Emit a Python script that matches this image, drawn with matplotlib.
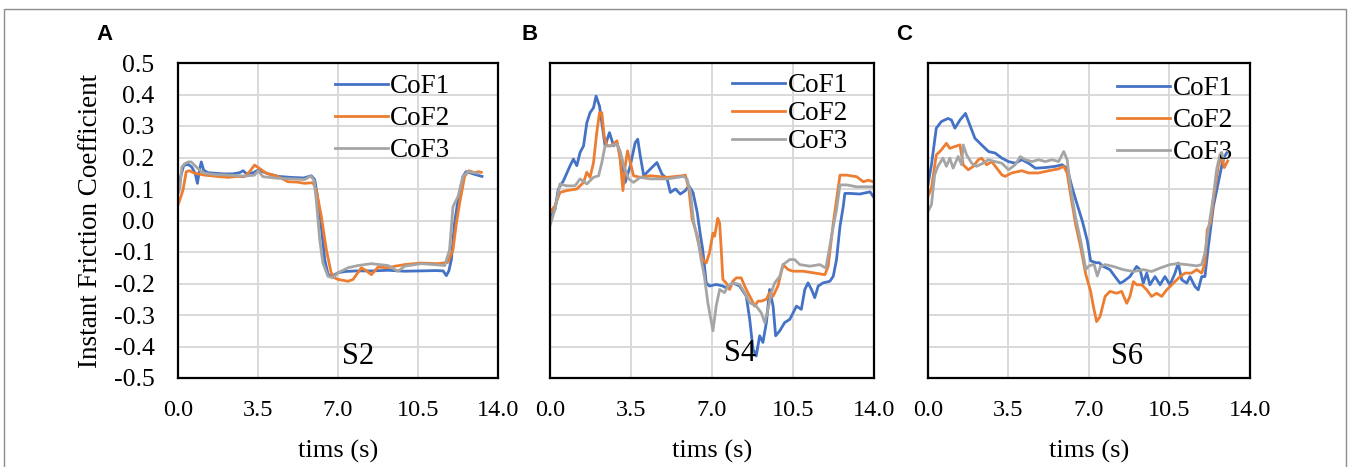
import matplotlib
matplotlib.use("Agg")
import matplotlib.pyplot as plt
from matplotlib.patches import Rectangle

plt.rcParams["axes.unicode_minus"] = False

SERIES_NAMES = ["CoF1", "CoF2", "CoF3"]
PANEL_LETTERS = ["A", "B", "C"]
SAMPLE_NAMES = ["S2", "S4", "S6"]
X_TICKS = [0.0, 3.5, 7.0, 10.5, 14.0]
X_TICK_LABELS = ["0.0", "3.5", "7.0", "10.5", "14.0"]
Y_TICKS = [-0.5, -0.4, -0.3, -0.2, -0.1, 0.0, 0.1, 0.2, 0.3, 0.4, 0.5]
Y_TICK_LABELS = ["-0.5", "-0.4", "-0.3", "-0.2", "-0.1", "0.0",
                 "0.1", "0.2", "0.3", "0.4", "0.5"]

# ---- S2 ----
S2_T1 = [0.0, 0.12, 0.25, 0.45, 0.6, 0.75, 0.85, 0.95, 1.02, 1.12, 1.3, 1.6, 2.0, 2.4,
         2.7, 2.85, 3.0, 3.3, 3.5, 3.7, 4.0, 4.4, 4.9, 5.5, 5.83, 5.98, 6.1, 6.27, 6.42,
         6.56, 6.7, 6.85, 7.0, 7.3, 7.8, 8.5, 9.2, 9.9, 10.6, 11.3, 11.6, 11.74, 11.85,
         11.96, 12.1, 12.25, 12.47, 12.6, 12.83, 13.05, 13.3]
S2_COF1 = [0.09, 0.14, 0.175, 0.178, 0.17, 0.15, 0.118, 0.165, 0.186, 0.16, 0.152, 0.15,
           0.148, 0.148, 0.152, 0.158, 0.148, 0.152, 0.16, 0.155, 0.147, 0.14, 0.137,
           0.135, 0.142, 0.13, 0.076, -0.02, -0.124, -0.17, -0.178, -0.172, -0.166,
           -0.162, -0.16, -0.16, -0.158, -0.161, -0.16, -0.159, -0.16, -0.175, -0.16,
           -0.124, -0.008, 0.065, 0.14, 0.155, 0.15, 0.145, 0.14]
S2_T2 = [0.0, 0.1, 0.22, 0.36, 0.5, 0.73, 1.17, 1.7, 2.2, 2.6, 2.9, 3.13, 3.35, 3.57,
         3.86, 4.37, 4.81, 5.2, 5.54, 5.9, 6.05, 6.27, 6.49, 6.7, 6.85, 7.0, 7.44, 7.66,
         8.02, 8.25, 8.46, 8.75, 9.19, 9.5, 9.92, 10.6, 11.37, 11.8, 12.03, 12.18,
         12.32, 12.54, 12.72, 12.98, 13.15, 13.27]
S2_COF2 = [0.05, 0.07, 0.097, 0.155, 0.158, 0.15, 0.144, 0.14, 0.137, 0.14, 0.139,
           0.155, 0.176, 0.165, 0.15, 0.14, 0.123, 0.122, 0.118, 0.12, 0.097, 0.013,
           -0.093, -0.166, -0.182, -0.187, -0.193, -0.187, -0.15, -0.16, -0.172,
           -0.148, -0.15, -0.145, -0.14, -0.135, -0.137, -0.133, -0.093, -0.008, 0.055,
           0.14, 0.158, 0.152, 0.155, 0.153]
S2_T3 = [0.0, 0.08, 0.17, 0.29, 0.45, 0.58, 0.8, 0.95, 1.17, 1.6, 2.2, 2.92, 3.35, 3.5,
         3.72, 4.37, 5.0, 5.54, 5.8, 5.95, 6.05, 6.2, 6.34, 6.56, 6.78, 7.0, 7.44, 7.87,
         8.46, 9.19, 9.62, 9.92, 10.64, 11.2, 11.67, 11.88, 12.03, 12.25, 12.47, 12.69,
         13.12]
S2_COF3 = [0.086, 0.1, 0.17, 0.18, 0.186, 0.186, 0.17, 0.16, 0.15, 0.146, 0.144, 0.141,
           0.144, 0.158, 0.139, 0.134, 0.132, 0.13, 0.141, 0.128, 0.065, -0.061, -0.135,
           -0.177, -0.182, -0.166, -0.15, -0.143, -0.137, -0.143, -0.161, -0.145,
           -0.137, -0.14, -0.143, -0.093, 0.044, 0.076, 0.14, 0.155, 0.15]

# ---- S4 ----
S4_T1 = [0.0, 0.22, 0.36, 0.58, 0.87, 1.01, 1.16, 1.3, 1.45, 1.59, 1.73, 1.88, 1.99,
         2.14, 2.24, 2.38, 2.57, 2.75, 2.89, 3.1, 3.25, 3.47, 3.68, 3.79, 3.9, 4.05,
         4.33, 4.62, 4.84, 5.06, 5.2, 5.42, 5.63, 5.85, 6.0, 6.18, 6.36, 6.5, 6.6, 6.75,
         6.89, 7.18, 7.47, 7.61, 7.9, 8.19, 8.48, 8.63, 8.77, 8.91, 9.06, 9.2, 9.35,
         9.49, 9.64, 9.75, 9.93, 10.14, 10.36, 10.65, 10.86, 11.01, 11.15, 11.3, 11.44,
         11.59, 11.8, 12.09, 12.24, 12.38, 12.53, 12.67, 12.74, 12.96, 13.39, 13.83,
         13.97]
S4_COF1 = [0.005, 0.037, 0.1, 0.126, 0.174, 0.195, 0.174, 0.216, 0.237, 0.31, 0.342,
           0.358, 0.395, 0.363, 0.31, 0.237, 0.279, 0.237, 0.247, 0.195, 0.121, 0.174,
           0.247, 0.258, 0.205, 0.142, 0.163, 0.184, 0.147, 0.132, 0.089, 0.1, 0.084,
           0.095, 0.11, 0.089, 0.026, -0.047, -0.093, -0.198, -0.208, -0.203, -0.208,
           -0.214, -0.198, -0.208, -0.24, -0.314, -0.408, -0.43, -0.366, -0.387,
           -0.324, -0.219, -0.272, -0.366, -0.35, -0.324, -0.314, -0.272, -0.282,
           -0.219, -0.198, -0.219, -0.245, -0.208, -0.198, -0.193, -0.177, -0.124,
           -0.019, 0.044, 0.086, 0.086, 0.084, 0.091, 0.076]
S4_T2 = [0.0, 0.22, 0.43, 0.72, 1.16, 1.45, 1.59, 1.73, 1.88, 2.02, 2.14, 2.24, 2.34,
         2.46, 2.67, 2.89, 3.03, 3.15, 3.25, 3.35, 3.47, 3.61, 3.9, 4.33, 5.06, 5.71,
         5.85, 6.0, 6.14, 6.36, 6.5, 6.6, 6.75, 6.89, 7.04, 7.11, 7.25, 7.33, 7.4, 7.47,
         7.61, 7.76, 7.9, 8.05, 8.26, 8.41, 8.55, 8.7, 8.84, 8.99, 9.13, 9.35, 9.49,
         9.64, 9.85, 10.07, 10.29, 10.5, 10.94, 11.37, 11.88, 12.02, 12.24, 12.38,
         12.53, 12.82, 13.25, 13.54, 13.75, 13.97]
S4_COF2 = [0.026, 0.047, 0.089, 0.095, 0.1, 0.121, 0.153, 0.137, 0.184, 0.279, 0.342,
           0.342, 0.268, 0.237, 0.237, 0.253, 0.195, 0.095, 0.174, 0.221, 0.184, 0.142,
           0.137, 0.142, 0.137, 0.142, 0.144, 0.1, 0.005, -0.047, -0.1, -0.124, -0.135,
           -0.103, -0.04, -0.05, 0.007, -0.008, -0.093, -0.187, -0.198, -0.219, -0.193,
           -0.182, -0.182, -0.208, -0.229, -0.25, -0.272, -0.256, -0.256, -0.25,
           -0.229, -0.24, -0.208, -0.14, -0.156, -0.161, -0.161, -0.166, -0.172,
           -0.145, -0.008, 0.065, 0.144, 0.144, 0.139, 0.123, 0.128, 0.123]
S4_T3 = [0.0, 0.22, 0.43, 0.72, 1.08, 1.3, 1.59, 1.88, 2.1, 2.24, 2.38, 2.6, 2.89, 3.03,
         3.18, 3.4, 3.61, 3.9, 4.33, 5.06, 5.78, 5.92, 6.07, 6.21, 6.43, 6.53, 6.67,
         6.82, 7.04, 7.18, 7.33, 7.54, 7.69, 7.9, 8.19, 8.41, 8.63, 8.91, 9.13, 9.28,
         9.42, 9.56, 9.71, 9.93, 10.07, 10.36, 10.57, 10.79, 11.23, 11.66, 11.92,
         12.09, 12.24, 12.38, 12.53, 12.82, 13.25, 13.68, 13.97]
S4_COF3 = [-0.016, 0.037, 0.116, 0.11, 0.11, 0.132, 0.116, 0.137, 0.142, 0.184, 0.237,
           0.237, 0.242, 0.221, 0.174, 0.132, 0.121, 0.137, 0.132, 0.132, 0.14, 0.132,
           0.089, -0.005, -0.079, -0.124, -0.177, -0.261, -0.35, -0.272, -0.219,
           -0.229, -0.208, -0.198, -0.203, -0.229, -0.261, -0.272, -0.293, -0.324,
           -0.282, -0.229, -0.198, -0.177, -0.14, -0.124, -0.124, -0.14, -0.145, -0.14,
           -0.151, -0.082, -0.019, 0.034, 0.113, 0.113, 0.107, 0.107, 0.107]

# ---- S6 ----
S6_T1 = [0.0, 0.15, 0.36, 0.58, 0.87, 1.02, 1.17, 1.39, 1.63, 1.82, 2.04, 2.33, 2.63,
         2.92, 3.21, 3.5, 3.79, 4.08, 4.37, 4.67, 5.1, 5.54, 5.83, 6.05, 6.27, 6.49,
         6.71, 6.93, 7.07, 7.29, 7.44, 7.62, 7.91, 8.13, 8.35, 8.49, 8.78, 9.07, 9.22,
         9.36, 9.51, 9.65, 9.87, 10.09, 10.3, 10.52, 10.74, 10.88, 11.03, 11.25, 11.39,
         11.61, 11.75, 11.9, 12.04, 12.19, 12.41, 12.62, 12.77, 12.87, 12.99]
S6_COF1 = [0.114, 0.177, 0.293, 0.314, 0.324, 0.319, 0.293, 0.319, 0.34, 0.303, 0.261,
           0.24, 0.219, 0.214, 0.198, 0.187, 0.182, 0.193, 0.182, 0.166, 0.168, 0.172,
           0.177, 0.166, 0.103, 0.05, -0.002, -0.065, -0.128, -0.134, -0.134, -0.146,
           -0.156, -0.178, -0.199, -0.194, -0.178, -0.146, -0.156, -0.199, -0.167,
           -0.204, -0.178, -0.204, -0.178, -0.204, -0.167, -0.135, -0.188, -0.199,
           -0.178, -0.21, -0.22, -0.178, -0.178, -0.082, 0.046, 0.12, 0.173, 0.2, 0.215]
S6_T2 = [0.0, 0.15, 0.36, 0.58, 0.8, 0.95, 1.17, 1.39, 1.53, 1.75, 1.97, 2.19, 2.33,
         2.55, 2.77, 2.99, 3.21, 3.35, 3.64, 4.08, 4.37, 4.81, 5.25, 5.68, 5.9, 6.05,
         6.2, 6.42, 6.64, 6.86, 7.07, 7.19, 7.33, 7.48, 7.7, 7.91, 8.2, 8.42, 8.64, 8.78,
         8.93, 9.07, 9.29, 9.51, 9.72, 9.94, 10.16, 10.38, 10.67, 10.96, 11.17, 11.46,
         11.68, 11.9, 12.04, 12.14, 12.29, 12.43, 12.62, 12.77, 12.88, 13.03]
S6_COF2 = [0.077, 0.103, 0.208, 0.224, 0.245, 0.229, 0.235, 0.24, 0.177, 0.161, 0.172,
           0.193, 0.198, 0.177, 0.187, 0.166, 0.145, 0.14, 0.151, 0.158, 0.151, 0.151,
           0.158, 0.164, 0.172, 0.151, 0.082, -0.013, -0.086, -0.171, -0.225, -0.273,
           -0.321, -0.305, -0.241, -0.225, -0.231, -0.225, -0.263, -0.241, -0.194,
           -0.204, -0.204, -0.22, -0.241, -0.231, -0.241, -0.22, -0.199, -0.178,
           -0.167, -0.167, -0.156, -0.167, -0.135, -0.029, -0.007, 0.078, 0.173, 0.205,
           0.168, 0.189]
S6_T3 = [0.0, 0.15, 0.29, 0.43, 0.65, 0.8, 0.95, 1.09, 1.31, 1.46, 1.53, 1.68, 1.9,
         2.11, 2.4, 2.62, 2.92, 3.21, 3.5, 3.79, 4.01, 4.23, 4.52, 4.81, 5.1, 5.4, 5.68,
         5.9, 6.05, 6.2, 6.42, 6.64, 6.86, 7.0, 7.22, 7.36, 7.5, 7.7, 8.06, 8.49, 8.93,
         9.36, 9.72, 10.09, 10.52, 10.81, 11.25, 11.68, 11.9, 12.04, 12.19, 12.41,
         12.55, 12.7, 12.77, 12.84]
S6_COF3 = [0.029, 0.05, 0.145, 0.172, 0.198, 0.172, 0.198, 0.166, 0.203, 0.177, 0.24,
           0.208, 0.182, 0.172, 0.182, 0.193, 0.187, 0.182, 0.161, 0.177, 0.203, 0.193,
           0.187, 0.193, 0.187, 0.193, 0.187, 0.219, 0.193, 0.103, 0.008, -0.065,
           -0.155, -0.144, -0.139, -0.176, -0.146, -0.14, -0.146, -0.156, -0.162,
           -0.156, -0.162, -0.151, -0.14, -0.137, -0.14, -0.144, -0.14, -0.103, -0.029,
           0.078, 0.163, 0.211, 0.216, 0.195]

PANELS = [
    [(S2_T1, S2_COF1), (S2_T2, S2_COF2), (S2_T3, S2_COF3)],
    [(S4_T1, S4_COF1), (S4_T2, S4_COF2), (S4_T3, S4_COF3)],
    [(S6_T1, S6_COF1), (S6_T2, S6_COF2), (S6_T3, S6_COF3)],
]

COLORS = ["#4472C4", "#ED7D31", "#A5A5A5"]
SERIF = "Liberation Serif"
SANS = "Liberation Sans"

W, H = 1352, 467
fig = plt.figure(figsize=(W / 100, H / 100), dpi=100)

# outer frame of the figure
fig.patches.append(Rectangle((4 / W, -0.05), 1342 / W, 1 - 9 / H + 0.05,
                             transform=fig.transFigure, fill=False,
                             edgecolor="#8c8c8c", linewidth=1.0))

# axes boxes in pixels: (left, width)
boxes = [(178, 320), (550, 324), (928, 322)]
ax_top, ax_bottom = 63, 378
legend_anchor = [(0.49, 0.965), (0.562, 0.968), (0.587, 0.958)]
legend_spacing = [0.26, 0.11, 0.26]
sample_pos = [(0.5625, 0.067), (0.586, 0.079), (0.618, 0.067)]
letter_x = [105, 530, 904]

for i, (left, width) in enumerate(boxes):
    ax = fig.add_axes([left / W, (H - ax_bottom) / H, width / W,
                       (ax_bottom - ax_top) / H])
    for (t, v), name, col in zip(PANELS[i], SERIES_NAMES, COLORS):
        ax.plot(t, v, color=col, lw=2.0, label=name, solid_joinstyle="round")

    ax.set_xlim(0, 14)
    ax.set_ylim(-0.5, 0.5)
    ax.set_xticks(X_TICKS)
    ax.set_xticklabels(X_TICK_LABELS, fontfamily=SERIF, fontsize=17.5)
    ax.set_yticks(Y_TICKS)
    if i == 0:
        ax.set_yticklabels(Y_TICK_LABELS, fontfamily=SERIF, fontsize=18.5)
    else:
        ax.set_yticklabels([])
    ax.tick_params(length=0)
    ax.tick_params(axis="x", pad=16)
    ax.tick_params(axis="y", pad=17)
    ax.grid(True, color="#d9d9d9", lw=1.4)
    ax.set_axisbelow(True)
    for sp in ax.spines.values():
        sp.set_color("black")
        sp.set_linewidth(1.6)

    leg = ax.legend(loc="upper left", bbox_to_anchor=legend_anchor[i],
                    frameon=False, borderpad=0, borderaxespad=0,
                    handlelength=1.95, handletextpad=0.1,
                    labelspacing=legend_spacing[i],
                    prop={"family": SERIF, "size": 19.5})
    for line in leg.get_lines():
        line.set_linewidth(2.0)

    ax.text(sample_pos[i][0], sample_pos[i][1], SAMPLE_NAMES[i],
            transform=ax.transAxes, ha="center", va="center",
            fontfamily=SERIF, fontsize=22)

    ax.text(0.5, -0.232, "tims (s)", transform=ax.transAxes, ha="center",
            va="center", fontfamily=SERIF, fontsize=19)

    fig.text(letter_x[i] / W, 1 - 35 / H, PANEL_LETTERS[i], ha="center",
             va="center", fontfamily=SANS, fontweight="bold", fontsize=16)

fig.text(91 / W, 1 - 221 / H, "Instant Friction Coefficient", rotation=90,
         ha="center", va="center", fontfamily=SERIF, fontsize=19.5)

fig.savefig("out.png", dpi=100)
